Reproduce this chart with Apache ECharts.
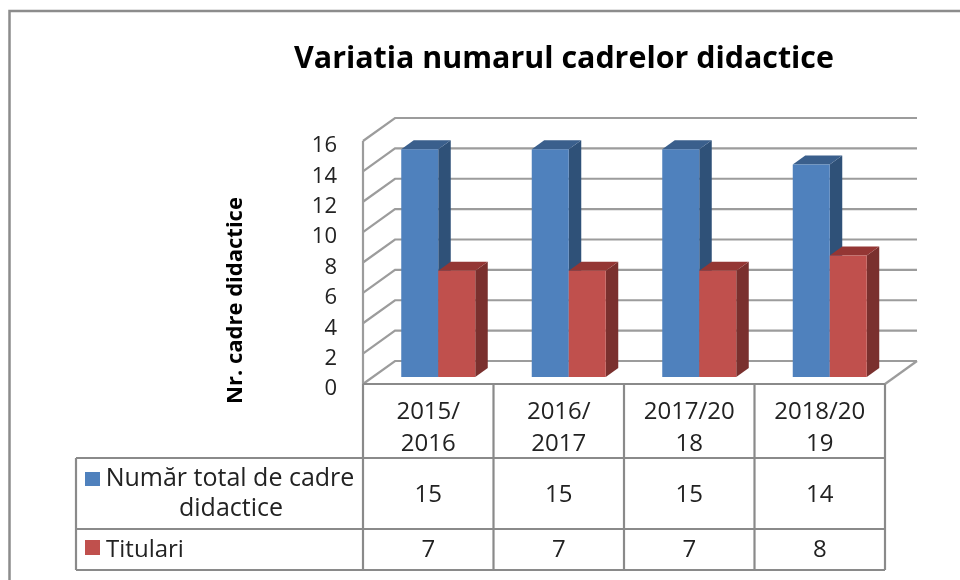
<!DOCTYPE html>
<html>
<head>
<meta charset="utf-8">
<style>
  html, body { margin: 0; padding: 0; background: #fff; }
  #main { width: 960px; height: 580px; }
</style>
<script src="https://cdn.jsdelivr.net/npm/echarts@6/dist/echarts.min.js"></script>
</head>
<body>
<div id="main"></div>
<script>
var titleText = 'Variatia numarul cadrelor didactice';
var yAxisName = 'Nr. cadre didactice';
var categories = ['2015/\n2016', '2016/\n2017', '2017/20\n18', '2018/20\n19'];
var yTicks = [0, 2, 4, 6, 8, 10, 12, 14, 16];
var totalName = 'Număr total de cadre\ndidactice';
var totalValues = [15, 15, 15, 14];
var titulariName = 'Titulari';
var titulariValues = [7, 7, 7, 8];

var lineColor = '#9c9c9c';
var tableColor = '#8a8a8a';
var textFont = '"Open Sans", sans-serif';

// wall depth and bar depth, in px
var wallDx = 32, wallDy = -23;
var barDx = 12.5, barDy = -9;
var inDx = 0, inDy = -7;   // bars stand a bit behind the front edge
var barWidth = 37;

var chart = echarts.init(document.getElementById('main'));

function line(pts, color, width) {
  return {
    type: 'polyline',
    shape: { points: pts },
    style: { stroke: color || lineColor, lineWidth: width || 2.2, fill: null }
  };
}

function poly(pts, color) {
  return { type: 'polygon', shape: { points: pts }, style: { fill: color, stroke: null } };
}

// back wall + side wall lines, one per tick
function renderWall(params, api) {
  var cs = params.coordSys;
  var y = api.coord([0, api.value(0)])[1];
  var left = cs.x, right = cs.x + cs.width;
  var kids = [line([[left, y], [left + wallDx, y + wallDy], [right + wallDx, y + wallDy]])];
  if (params.dataIndex === 0) {
    kids.push(line([[left, y], [left, cs.y]]));
    kids.push(line([[left, y], [right, y]], tableColor));
    kids.push(line([[right, y], [right + wallDx, y + wallDy]]));
  }
  return { type: 'group', children: kids };
}

function makeBarRender(slot, front, top, side) {
  return function (params, api) {
    var idx = api.value(0);
    var p = api.coord([idx, api.value(1)]);
    var base = api.coord([idx, 0]);
    var x0 = p[0] + 10 + (slot === 0 ? -barWidth : 0);
    var x1 = x0 + barWidth;
    var yT = p[1] + inDy, yB = base[1] + inDy;
    return {
      type: 'group',
      children: [
        poly([[x1, yT], [x1 + barDx, yT + barDy], [x1 + barDx, yB + barDy], [x1, yB]], side),
        poly([[x0, yT], [x0 + barDx, yT + barDy], [x1 + barDx, yT + barDy], [x1, yT]], top),
        poly([[x0, yT], [x1, yT], [x1, yB], [x0, yB]], front)
      ]
    };
  };
}

// data table under the plot, drawn row values from the same arrays
var rowTop = 458, rowMid = 529, rowBottom = 570, tableLeft = 76;

function cellText(x, y, text, size) {
  return {
    type: 'text',
    x: x, y: y,
    style: {
      text: text, fill: '#222', font: size + 'px ' + textFont,
      align: 'center', verticalAlign: 'middle'
    }
  };
}

function renderTable(params, api) {
  var cs = params.coordSys;
  var idx = api.value(0);
  var band = api.size([1, 0])[0];
  var cx = api.coord([idx, 0])[0];
  var yAxisBottom = cs.y + cs.height;
  var kids = [
    line([[cx + band / 2, yAxisBottom], [cx + band / 2, rowBottom]], tableColor),
    cellText(cx, 495, String(totalValues[idx]), 24),
    cellText(cx, 550, String(titulariValues[idx]), 24)
  ];
  if (idx === 0) {
    kids.push(line([[cs.x, yAxisBottom], [cs.x, rowBottom]], tableColor));
    kids.push(line([[tableLeft, rowTop], [cs.x + cs.width, rowTop]], tableColor));
    kids.push(line([[tableLeft, rowMid], [cs.x + cs.width, rowMid]], tableColor));
    kids.push(line([[tableLeft, rowBottom], [cs.x + cs.width, rowBottom]], tableColor));
    kids.push(line([[tableLeft, rowTop], [tableLeft, rowBottom]], tableColor));
    kids.push({ type: 'rect', shape: { x: 85, y: 472, width: 15, height: 14 }, style: { fill: '#4f81bd' } });
    kids.push({ type: 'rect', shape: { x: 85, y: 540, width: 15, height: 15 }, style: { fill: '#c0504d' } });
    var totalLines = totalName.split('\n');
    kids.push(cellText(230, 479, totalLines[0], 25));
    kids.push(cellText(231, 509, totalLines[1], 25));
    kids.push(cellText(145, 550, titulariName, 24));
  }
  return { type: 'group', children: kids };
}

var option = {
  animation: false,
  backgroundColor: '#fff',
  title: {
    text: titleText,
    left: 559, top: 39, textAlign: 'center',
    textStyle: { fontFamily: textFont, fontSize: 30.4, fontWeight: 'bold', color: '#000' }
  },
  grid: { left: 363, right: 75, top: 141, bottom: 196 },
  xAxis: {
    type: 'category',
    data: categories,
    axisLine: { show: false },
    axisTick: { show: false },
    axisLabel: {
      interval: 0, margin: 12, fontSize: 24, lineHeight: 32,
      fontFamily: textFont, color: '#222'
    }
  },
  yAxis: {
    type: 'value',
    min: 0, max: 16, interval: 2,
    name: yAxisName,
    nameLocation: 'middle',
    nameGap: 116,
    nameRotate: 90,
    nameTextStyle: {
      fontFamily: textFont, fontSize: 22, fontWeight: 'bold', color: '#000',
      padding: [0, 76, 0, 0]
    },
    axisLine: { show: false },
    axisTick: { show: false },
    splitLine: { show: false },
    axisLabel: {
      margin: 26, fontSize: 22, fontFamily: textFont, color: '#222',
      verticalAlign: 'top', lineHeight: 10
    }
  },
  series: [
    {
      type: 'custom', name: 'wall', renderItem: renderWall, clip: false, z: 1,
      data: yTicks.map(function (t) { return [t]; }), encode: { y: 0 }, silent: true
    },
    {
      type: 'custom', name: 'table', renderItem: renderTable, clip: false, z: 1,
      data: categories.map(function (c, i) { return [i]; }), encode: { x: 0 }, silent: true
    },
    {
      type: 'custom', name: totalName, clip: false, z: 2,
      renderItem: makeBarRender(0, '#4f81bd', '#3a5f8c', '#2f5178'),
      data: totalValues.map(function (v, i) { return [i, v]; }), encode: { x: 0, y: 1 }
    },
    {
      type: 'custom', name: titulariName, clip: false, z: 3,
      renderItem: makeBarRender(1, '#c0504d', '#943634', '#7a302e'),
      data: titulariValues.map(function (v, i) { return [i, v]; }), encode: { x: 0, y: 1 }
    }
  ],
  graphic: [
    {
      type: 'polyline', silent: true,
      shape: { points: [[9.5, 580], [9.5, 11], [960, 11]] },
      style: { stroke: '#8c8c8c', lineWidth: 2.5, fill: null }
    }
  ]
};

chart.setOption(option);
</script>
</body>
</html>
